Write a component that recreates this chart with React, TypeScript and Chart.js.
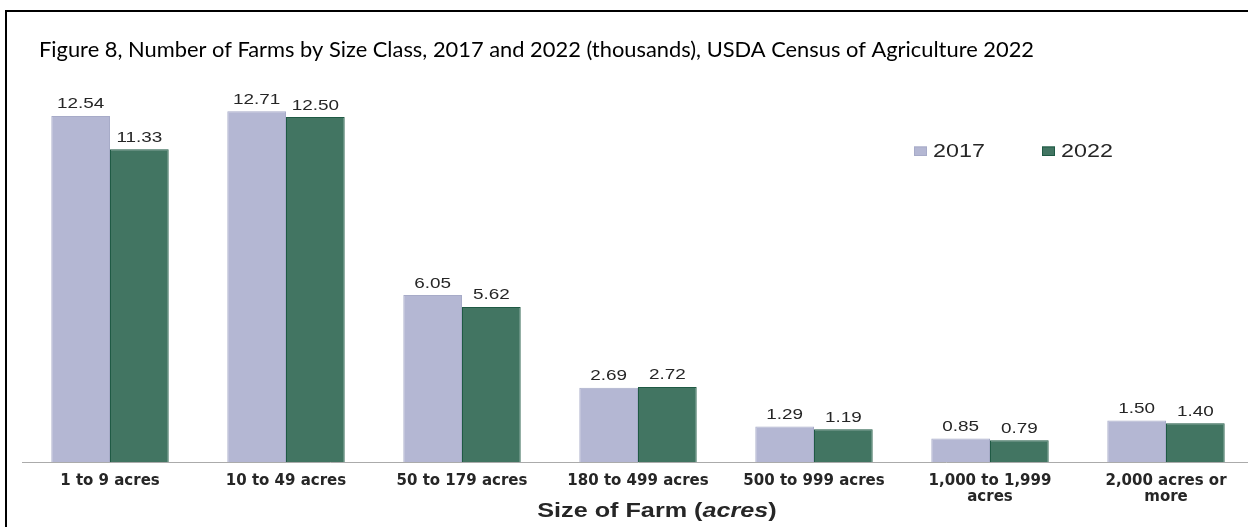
import React, { useEffect, useRef } from 'react';
import { Chart, registerables } from 'chart.js';

Chart.register(...registerables);

// ---- data ----
const categories: string[][] = [
  ['1 to 9 acres'],
  ['10 to 49 acres'],
  ['50 to 179 acres'],
  ['180 to 499 acres'],
  ['500 to 999 acres'],
  ['1,000 to 1,999', 'acres'],
  ['2,000 acres or', 'more'],
];
const values2017 = [12.54, 12.71, 6.05, 2.69, 1.29, 0.85, 1.5];
const values2022 = [11.33, 12.5, 5.62, 2.72, 1.19, 0.79, 1.4];
const seriesNames = ['2017', '2022'];
const titleText =
  'Figure 8, Number of Farms by Size Class, 2017 and 2022 (thousands), USDA Census of Agriculture 2022';
const axisTitleParts = [
  { text: 'Size of Farm (', italic: false },
  { text: 'acres', italic: true },
  { text: ')', italic: false },
];

// ---- styles ----
const fill2017 = '#b4b7d3';
const border2017 = '#a7abc8';
const fill2022 = '#427562';
const border2022 = '#1f5a44';
const textColor = '#262626';
const SX = 1.26; // horizontal stretch of the original picture

const overlayPlugin = {
  id: 'overlay',
  afterDraw(chart: any) {
    const ctx = chart.ctx as CanvasRenderingContext2D;

    // title
    ctx.save();
    ctx.font = '20.5px Lato';
    ctx.fillStyle = '#000000';
    ctx.textBaseline = 'alphabetic';
    ctx.textAlign = 'left';
    const tw = ctx.measureText(titleText).width;
    ctx.translate(39, 57);
    ctx.scale(995 / tw, 1);
    ctx.fillText(titleText, 0, 0);
    ctx.restore();

    // data labels
    chart.data.datasets.forEach((ds: any, di: number) => {
      const meta = chart.getDatasetMeta(di);
      meta.data.forEach((bar: any, i: number) => {
        const v = ds.data[i] as number;
        ctx.save();
        ctx.translate(bar.x, bar.y - 7.5);
        ctx.scale(SX, 1);
        ctx.font = '15px "Liberation Sans", Arial, sans-serif';
        ctx.fillStyle = textColor;
        ctx.textAlign = 'center';
        ctx.textBaseline = 'alphabetic';
        ctx.fillText(v.toFixed(2), 0, 0);
        ctx.restore();
      });
    });

    // legend
    const legendX = [914, 1042];
    chart.data.datasets.forEach((ds: any, di: number) => {
      const x = legendX[di];
      ctx.save();
      ctx.fillStyle = ds.backgroundColor;
      ctx.strokeStyle = ds.borderColor;
      ctx.lineWidth = 1;
      ctx.fillRect(x, 146.5, 13, 9.5);
      ctx.strokeRect(x + 0.5, 147, 12, 8.5);
      ctx.restore();
      ctx.save();
      ctx.translate(x + 19, 151.5);
      ctx.scale(SX, 1);
      ctx.font = '18.5px "Liberation Sans", Arial, sans-serif';
      ctx.fillStyle = textColor;
      ctx.textAlign = 'left';
      ctx.textBaseline = 'middle';
      ctx.fillText(ds.label, 0, 0);
      ctx.restore();
    });

    // x axis title
    ctx.save();
    const fonts = axisTitleParts.map((p) =>
      (p.italic ? 'italic ' : '') + 'bold 20px "Liberation Sans", Arial, sans-serif'
    );
    let total = 0;
    const widths = axisTitleParts.map((p, i) => {
      ctx.font = fonts[i];
      const w = ctx.measureText(p.text).width;
      total += w;
      return w;
    });
    ctx.translate(657 - (total * SX) / 2, 516.5);
    ctx.scale(SX, 1);
    ctx.fillStyle = textColor;
    ctx.textBaseline = 'alphabetic';
    ctx.textAlign = 'left';
    let cx = 0;
    axisTitleParts.forEach((p, i) => {
      ctx.font = fonts[i];
      ctx.fillText(p.text, cx, 0);
      cx += widths[i];
    });
    ctx.restore();
  },
};

export default function App() {
  const ref = useRef<HTMLCanvasElement | null>(null);

  useEffect(() => {
    if (!ref.current) return;
    const chart = new Chart(ref.current, {
      type: 'bar',
      data: {
        labels: categories,
        datasets: [
          {
            label: seriesNames[0],
            data: values2017,
            backgroundColor: fill2017,
            borderColor: border2017,
            borderWidth: 1,
            categoryPercentage: 0.667,
            barPercentage: 1,
          },
          {
            label: seriesNames[1],
            data: values2022,
            backgroundColor: fill2022,
            borderColor: border2022,
            borderWidth: 1,
            categoryPercentage: 0.667,
            barPercentage: 1,
          },
        ],
      },
      options: {
        responsive: false,
        animation: false,
        devicePixelRatio: 1,
        layout: { padding: { left: 22, right: 6, top: 75.6, bottom: 0 } },
        plugins: {
          legend: { display: false },
          title: { display: false },
          tooltip: { enabled: false },
        },
        scales: {
          x: {
            grid: { display: false, drawTicks: false },
            border: { display: true, color: '#ababab', width: 1 },
            ticks: {
              autoSkip: false,
              maxRotation: 0,
              minRotation: 0,
              padding: 11,
              color: textColor,
              font: { family: '"DejaVu Sans", sans-serif', weight: 'bold', size: 15, lineHeight: '16px' },
            },
            afterFit: (scale: any) => {
              scale.height = 65;
            },
          },
          y: {
            display: false,
            min: 0,
            max: 14,
          },
        },
      },
      plugins: [overlayPlugin],
    } as any);
    return () => chart.destroy();
  }, []);

  return (
    <div
      style={{
        position: 'absolute',
        left: 0,
        top: 0,
        width: 1248,
        height: 527,
        overflow: 'hidden',
        background: '#ffffff',
      }}
    >
      <div
        style={{
          position: 'absolute',
          left: 5,
          top: 10,
          width: 1400,
          height: 700,
          borderTop: '2px solid #000',
          borderLeft: '2px solid #000',
        }}
      />
      <canvas
        ref={ref}
        width={1260}
        height={527}
        style={{ position: 'absolute', left: 0, top: 0, width: 1260, height: 527 }}
      />
    </div>
  );
}
